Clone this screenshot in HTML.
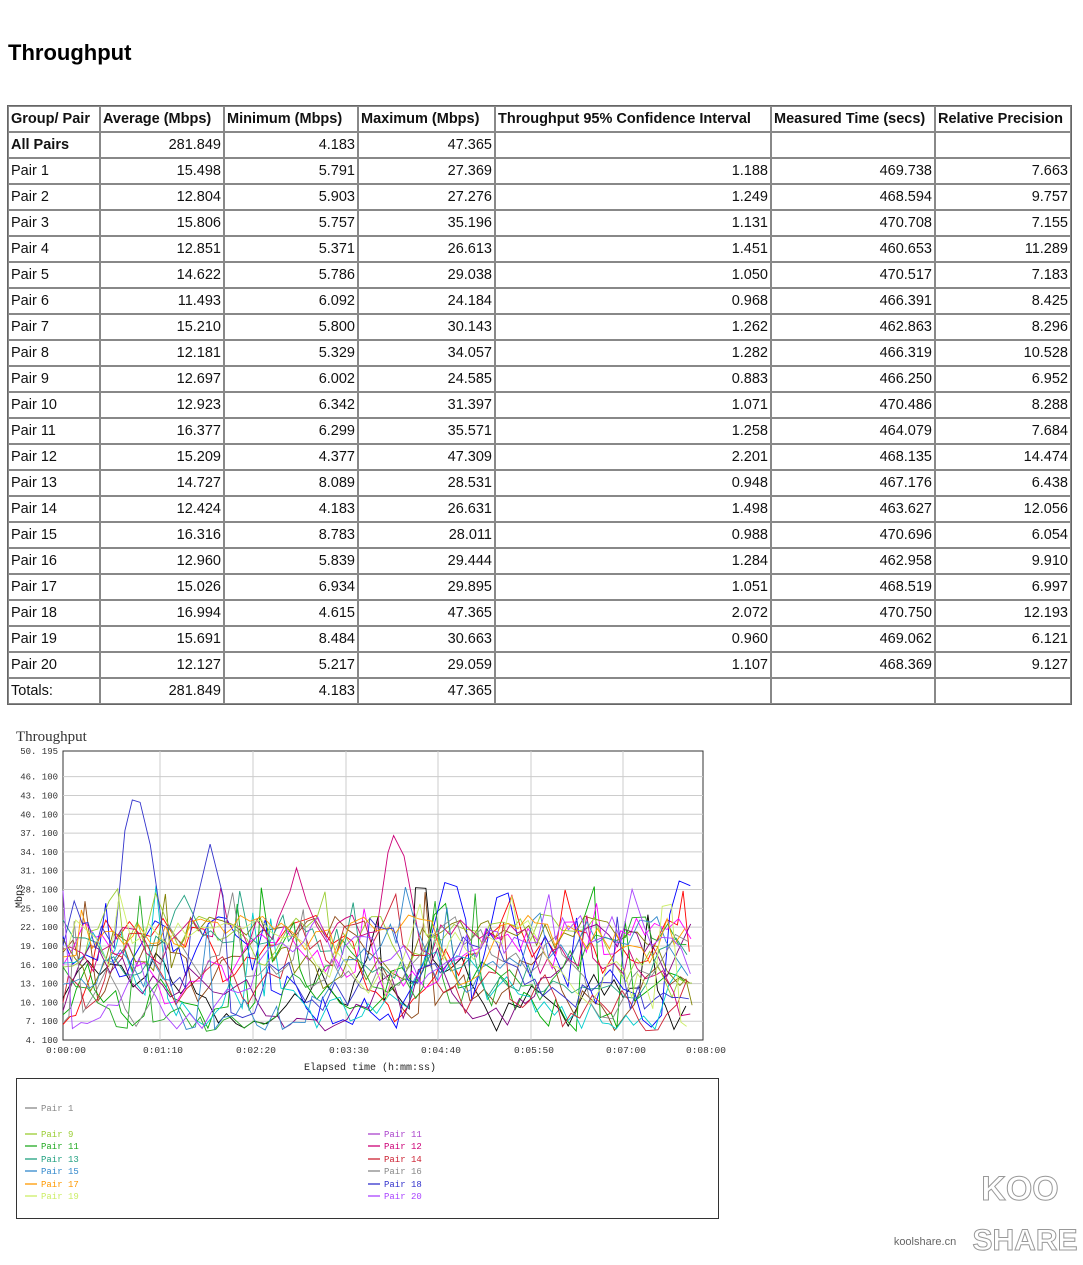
<!DOCTYPE html>
<html><head><meta charset="utf-8"><style>
body{margin:0;background:#fff;width:1083px;height:1265px;position:relative;overflow:hidden;font-family:"Liberation Sans",sans-serif;}
h1{position:absolute;left:8px;top:40px;margin:0;font-size:22px;font-weight:bold;font-family:"Liberation Sans",sans-serif;}
table{position:absolute;left:7px;top:105px;width:1063px;table-layout:fixed;border-collapse:separate;border-spacing:0;border:1px solid #666;}
td{border:1px solid #888;height:26px;padding:0 2px;font-size:14.5px;color:#111;box-sizing:border-box;white-space:nowrap;overflow:hidden;line-height:24px}
td.r{text-align:right}
tr.h td{font-weight:bold}
td.b{font-weight:bold}
svg text{font-family:"Liberation Mono","DejaVu Sans Mono",monospace}
</style></head><body>
<h1>Throughput</h1>
<table id="t">
<colgroup><col style="width:92px"><col style="width:124px"><col style="width:134px"><col style="width:137px"><col style="width:276px"><col style="width:164px"><col style="width:136px"></colgroup>
<tr class="h"><td>Group/ Pair</td><td>Average (Mbps)</td><td>Minimum (Mbps)</td><td>Maximum (Mbps)</td><td>Throughput 95% Confidence Interval</td><td>Measured Time (secs)</td><td>Relative Precision</td></tr>
</table>
<svg width="1083" height="1265" style="position:absolute;left:0;top:0" id="s"></svg>
<script>
var rows=[["All Pairs","281.849","4.183","47.365","","",""],
["Pair 1","15.498","5.791","27.369","1.188","469.738","7.663"],
["Pair 2","12.804","5.903","27.276","1.249","468.594","9.757"],
["Pair 3","15.806","5.757","35.196","1.131","470.708","7.155"],
["Pair 4","12.851","5.371","26.613","1.451","460.653","11.289"],
["Pair 5","14.622","5.786","29.038","1.050","470.517","7.183"],
["Pair 6","11.493","6.092","24.184","0.968","466.391","8.425"],
["Pair 7","15.210","5.800","30.143","1.262","462.863","8.296"],
["Pair 8","12.181","5.329","34.057","1.282","466.319","10.528"],
["Pair 9","12.697","6.002","24.585","0.883","466.250","6.952"],
["Pair 10","12.923","6.342","31.397","1.071","470.486","8.288"],
["Pair 11","16.377","6.299","35.571","1.258","464.079","7.684"],
["Pair 12","15.209","4.377","47.309","2.201","468.135","14.474"],
["Pair 13","14.727","8.089","28.531","0.948","467.176","6.438"],
["Pair 14","12.424","4.183","26.631","1.498","463.627","12.056"],
["Pair 15","16.316","8.783","28.011","0.988","470.696","6.054"],
["Pair 16","12.960","5.839","29.444","1.284","462.958","9.910"],
["Pair 17","15.026","6.934","29.895","1.051","468.519","6.997"],
["Pair 18","16.994","4.615","47.365","2.072","470.750","12.193"],
["Pair 19","15.691","8.484","30.663","0.960","469.062","6.121"],
["Pair 20","12.127","5.217","29.059","1.107","468.369","9.127"],
["Totals:","281.849","4.183","47.365","","",""]];
var t=document.getElementById('t'),h='';
rows.forEach(function(r,i){h+='<tr>';r.forEach(function(c,j){h+='<td class="'+(j>0?'r':(i==0?'b':''))+'">'+c+'</td>'});h+='</tr>'});
t.insertAdjacentHTML('beforeend',h);
var s='';
var L=63,R=703,T=751,B=1040;
s+='<text x="16" y="741" font-size="15" fill="#333" style="font-family:\'Liberation Serif\',serif">Throughput</text>';
s+='<rect x="'+L+'" y="'+T+'" width="'+(R-L)+'" height="'+(B-T)+'" fill="#fff" stroke="#333"/>';
var yl=["50.195","46.100","43.100","40.100","37.100","34.100","31.100","28.100","25.100","22.100","19.100","16.100","13.100","10.100","7.100","4.100"];
function Y(v){return B-(v-4.1)/(50.195-4.1)*(B-T);}
yl.forEach(function(l){var v=parseFloat(l),y=Y(v);if(v<50&&v>5)s+='<line x1="'+L+'" x2="'+R+'" y1="'+y+'" y2="'+y+'" stroke="#ccc"/>';s+='<text x="58" y="'+(y+3)+'" font-size="9" text-anchor="end" fill="#333">'+l.replace('.','. ')+'</text>';});
var xl=["0:00:00","0:01:10","0:02:20","0:03:30","0:04:40","0:05:50","0:07:00","0:08:00"],xs=[63,160,253,346,438,531,623,703];
xl.forEach(function(l,i){if(i>0&&i<7)s+='<line x1="'+xs[i]+'" x2="'+xs[i]+'" y1="'+T+'" y2="'+B+'" stroke="#ccc"/>';s+='<text x="'+(xs[i]+3)+'" y="1053" font-size="9.5" text-anchor="middle" fill="#333">'+l+'</text>';});
s+='<text x="370" y="1070" font-size="10" text-anchor="middle" fill="#222">Elapsed time (h:mm:ss)</text>';
s+='<text transform="translate(22,896) rotate(-90)" font-size="10" text-anchor="middle" fill="#222">Mbps</text>';
var cols=["#000","#8b4513","#ff0000","#00aa00","#0000ff","#ff00ff","#00cccc","#808000","#9acd32","#800080","#22aa22","#cc0077","#20a080","#cc2233","#3388cc","#888888","#ff9900","#3333cc","#ccee66","#aa44ff"];
var seed=7;function rnd(){seed=(seed*16807)%2147483647;return seed/2147483647;}
var peaks={17:[[55,47],[60,38],[110,37]],11:[[250,40],[175,34]],4:[[290,35],[330,33],[465,33]]};
cols.forEach(function(c,k){var pts=[],v=7+rnd()*16,x=0;
 while(x<=472){ v+= (rnd()-0.5)*9; if(v<5.5)v=5.5+rnd()*3; if(v>24)v=24-rnd()*5; var vv=v;
  if(rnd()<0.04)vv=22+rnd()*7;
  (peaks[k]||[]).forEach(function(p){var d=Math.abs(x-p[0]);if(d<14)vv=Math.max(vv,p[1]-d*0.9-rnd()*3);});
  pts.push((L+x*1.333).toFixed(1)+','+Y(vv).toFixed(1)); x+=4+rnd()*6;}
 s+='<polyline points="'+pts.join(' ')+'" fill="none" stroke="'+c+'" stroke-width="0.9"/>';});
s+='<rect x="16.5" y="1078.5" width="702" height="140" fill="#fff" stroke="#333"/>';
var lg=[[25,1110,"#888","Pair 1"],[25,1136,"#9acd32","Pair 9"],[25,1148,"#22aa22","Pair 11"],[25,1161,"#20a080","Pair 13"],[25,1173,"#3388cc","Pair 15"],[25,1186,"#ff9900","Pair 17"],[25,1198,"#ccee66","Pair 19"],
[368,1136,"#aa44cc","Pair 11"],[368,1148,"#cc0077","Pair 12"],[368,1161,"#cc2233","Pair 14"],[368,1173,"#888","Pair 16"],[368,1186,"#3333cc","Pair 18"],[368,1198,"#aa44ff","Pair 20"]];
lg.forEach(function(g){s+='<line x1="'+g[0]+'" x2="'+(g[0]+12)+'" y1="'+(g[1]-2)+'" y2="'+(g[1]-2)+'" stroke="'+g[2]+'" stroke-width="1.3"/><text x="'+(g[0]+16)+'" y="'+(g[1]+1)+'" font-size="9" fill="'+g[2]+'">'+g[3]+'</text>';});
s+='<text x="1020" y="1200" font-size="34" font-weight="bold" fill="#fff" stroke="#999" stroke-width="1" text-anchor="middle" style="font-family:\'Liberation Sans\',sans-serif">KOO</text>';
s+='<text x="1025" y="1250" font-size="30" font-weight="bold" fill="#fff" stroke="#999" stroke-width="1" text-anchor="middle" style="font-family:\'Liberation Sans\',sans-serif">SHARE</text>';
s+='<text x="925" y="1245" font-size="11" fill="#666" text-anchor="middle" style="font-family:\'Liberation Sans\',sans-serif">koolshare.cn</text>';
document.getElementById('s').innerHTML=s;
</script>
</body></html>
